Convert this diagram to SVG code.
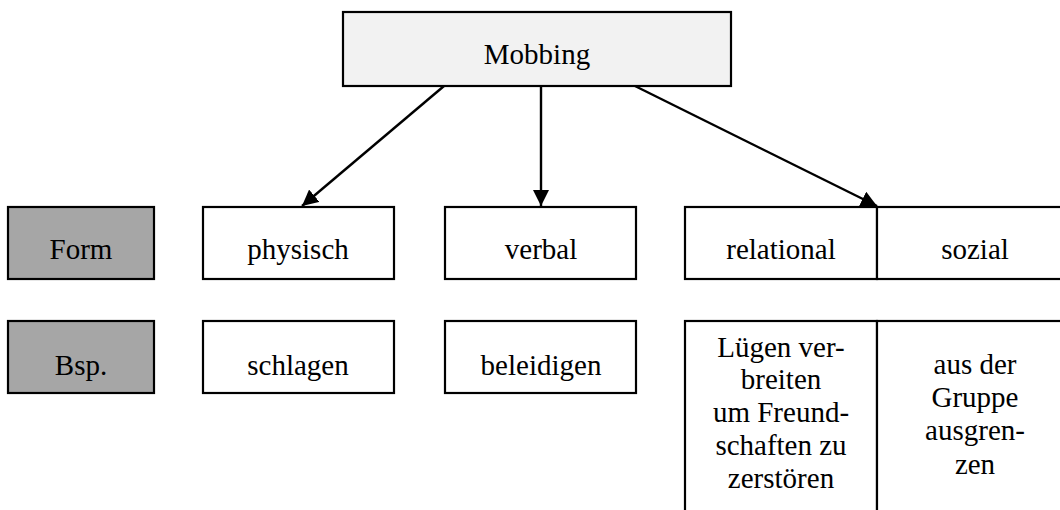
<svg xmlns="http://www.w3.org/2000/svg" width="1060" height="510" viewBox="0 0 1060 510">
<defs>
<style>
.box{fill:#ffffff;stroke:#000000;stroke-width:2.2}
.grey{fill:#a6a6a6;stroke:#000000;stroke-width:2.2}
.top{fill:#f2f2f2;stroke:#000000;stroke-width:2.2}
.t{font-family:'Liberation Serif','Times New Roman',Times,'DejaVu Serif',serif;font-size:29px;fill:#000000;text-anchor:middle}
.c{fill:none;stroke:#000000;stroke-width:2.4}
</style>
<marker id="ah" viewBox="0 0 16 16" refX="16" refY="8" markerWidth="16" markerHeight="16" markerUnits="userSpaceOnUse" orient="auto">
<path d="M0,0 L16,8 L0,16 z" fill="#000000"/>
</marker>
</defs>
<rect width="1060" height="510" fill="#ffffff"/>
<g id="connectors">
<line class="c" x1="444" y1="86" x2="302" y2="206" marker-end="url(#ah)"/>
<line class="c" x1="541" y1="86" x2="541" y2="206" marker-end="url(#ah)"/>
<line class="c" x1="635" y1="86" x2="877" y2="206" marker-end="url(#ah)"/>
</g>
<g font-family="Liberation Serif, Times New Roman, serif">
<g id="mobbing"><rect class="top" x="343" y="12" width="388" height="74"/><text class="t" x="537" y="64">Mobbing</text></g>
<g id="form"><rect class="grey" x="8" y="207" width="146" height="72"/><text class="t" x="81" y="259">Form</text></g>
<g id="physisch"><rect class="box" x="203" y="207" width="191" height="72"/><text class="t" x="298" y="259">physisch</text></g>
<g id="verbal"><rect class="box" x="445" y="207" width="191" height="72"/><text class="t" x="541" y="259">verbal</text></g>
<g id="relational"><rect class="box" x="685" y="207" width="192" height="72"/><text class="t" x="781" y="259">relational</text></g>
<g id="sozial"><rect class="box" x="877" y="207" width="196" height="72"/><text class="t" x="975" y="259">sozial</text></g>
<g id="bsp"><rect class="grey" x="8" y="321" width="146" height="72"/><text class="t" x="81" y="375">Bsp.</text></g>
<g id="schlagen"><rect class="box" x="203" y="321" width="191" height="72"/><text class="t" x="298" y="375">schlagen</text></g>
<g id="beleidigen"><rect class="box" x="445" y="321" width="191" height="72"/><text class="t" x="541" y="375">beleidigen</text></g>
<g id="luegen"><rect class="box" x="685" y="321" width="192" height="200"/>
<text class="t"><tspan x="781" y="357">Lügen ver-</tspan><tspan x="781" y="389">breiten</tspan><tspan x="781" y="422">um Freund-</tspan><tspan x="781" y="455">schaften zu</tspan><tspan x="781" y="488">zerstören</tspan></text></g>
<g id="ausgrenzen"><rect class="box" x="877" y="321" width="196" height="200"/>
<text class="t"><tspan x="975" y="374">aus der</tspan><tspan x="975" y="407">Gruppe</tspan><tspan x="975" y="440">ausgren-</tspan><tspan x="975" y="474">zen</tspan></text></g>
</g>
</svg>
